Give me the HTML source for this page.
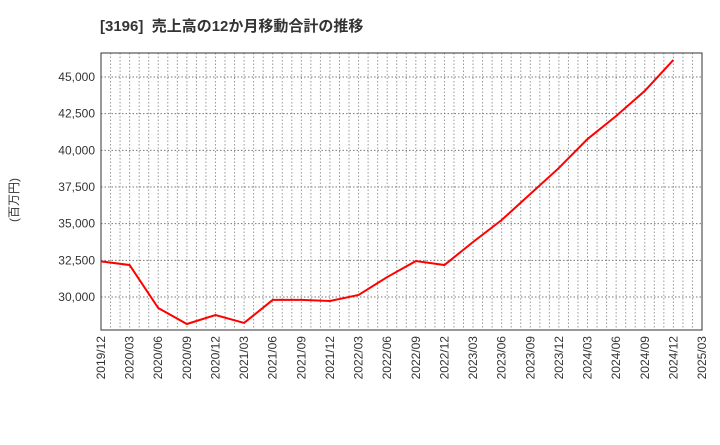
<!DOCTYPE html>
<html><head><meta charset="utf-8"><style>
body{margin:0;background:#fff;width:720px;height:440px;overflow:hidden}
svg text{font-family:"Liberation Sans","Noto Sans CJK JP",sans-serif;fill:#333}
</style></head><body>
<svg id="chart" width="720" height="440" xmlns="http://www.w3.org/2000/svg">
<text x="100" y="31" font-size="15" font-weight="bold">[3196]&#160; 売上高の12か月移動合計の推移</text>
<text transform="translate(18,200) rotate(-90)" font-size="12" text-anchor="middle">(百万円)</text>
<g id="grid"></g><g id="axes"></g><g id="series"></g>
</svg>
<script>
const categories=["2019/12","2020/03","2020/06","2020/09","2020/12","2021/03","2021/06","2021/09","2021/12","2022/03","2022/06","2022/09","2022/12","2023/03","2023/06","2023/09","2023/12","2024/03","2024/06","2024/09","2024/12"];
const values=[32430,32180,29250,28160,28770,28230,29800,29800,29730,30140,31360,32450,32180,33750,35250,37020,38800,40770,42340,44050,46160];
const xTickLabels=["2019/12","2020/03","2020/06","2020/09","2020/12","2021/03","2021/06","2021/09","2021/12","2022/03","2022/06","2022/09","2022/12","2023/03","2023/06","2023/09","2023/12","2024/03","2024/06","2024/09","2024/12","2025/03"];
const yTicks=[30000,32500,35000,37500,40000,42500,45000];
const L=101,R=702,T=53,B=330,yMin=27750,yMax=46636;
const NS="http://www.w3.org/2000/svg";
const xq=i=>L+(R-L)*i/21;
const y=v=>B-(v-yMin)/(yMax-yMin)*(B-T);
function mk(t,a,p){const e=document.createElementNS(NS,t);for(const k in a)e.setAttribute(k,a[k]);p.appendChild(e);return e;}
const g=document.getElementById('grid'),ax=document.getElementById('axes'),s=document.getElementById('series');
for(let m=1;m<63;m++){const x=L+(R-L)*m/63;
const l=mk('line',{x1:x,x2:x,y1:T,y2:B,stroke:'#999','stroke-width':1,'stroke-dasharray':'1.5,2'},g);

}
yTicks.forEach(v=>{const yy=y(v);
const l=mk('line',{x1:L,x2:R,y1:yy,y2:yy,stroke:'#777','stroke-width':1,'stroke-dasharray':'1.5,2'},g);


const t=mk('text',{x:L-6,y:yy+4,'font-size':12,'text-anchor':'end'},ax);t.textContent=v.toLocaleString('en-US');

});
xTickLabels.forEach((c,i)=>{const x=xq(i);
const t=mk('text',{transform:`translate(${x+4},${B+6}) rotate(-90)`,'font-size':12,'text-anchor':'end'},ax);t.textContent=c;

});
const fr=mk('rect',{x:L,y:T,width:R-L,height:B-T,fill:'none',stroke:'#333','stroke-width':1},ax);


const p=mk('polyline',{points:values.map((v,i)=>xq(i)+','+y(v)).join(' '),fill:'none',stroke:'#ff0000','stroke-width':2},s);


</script>
</body></html>
